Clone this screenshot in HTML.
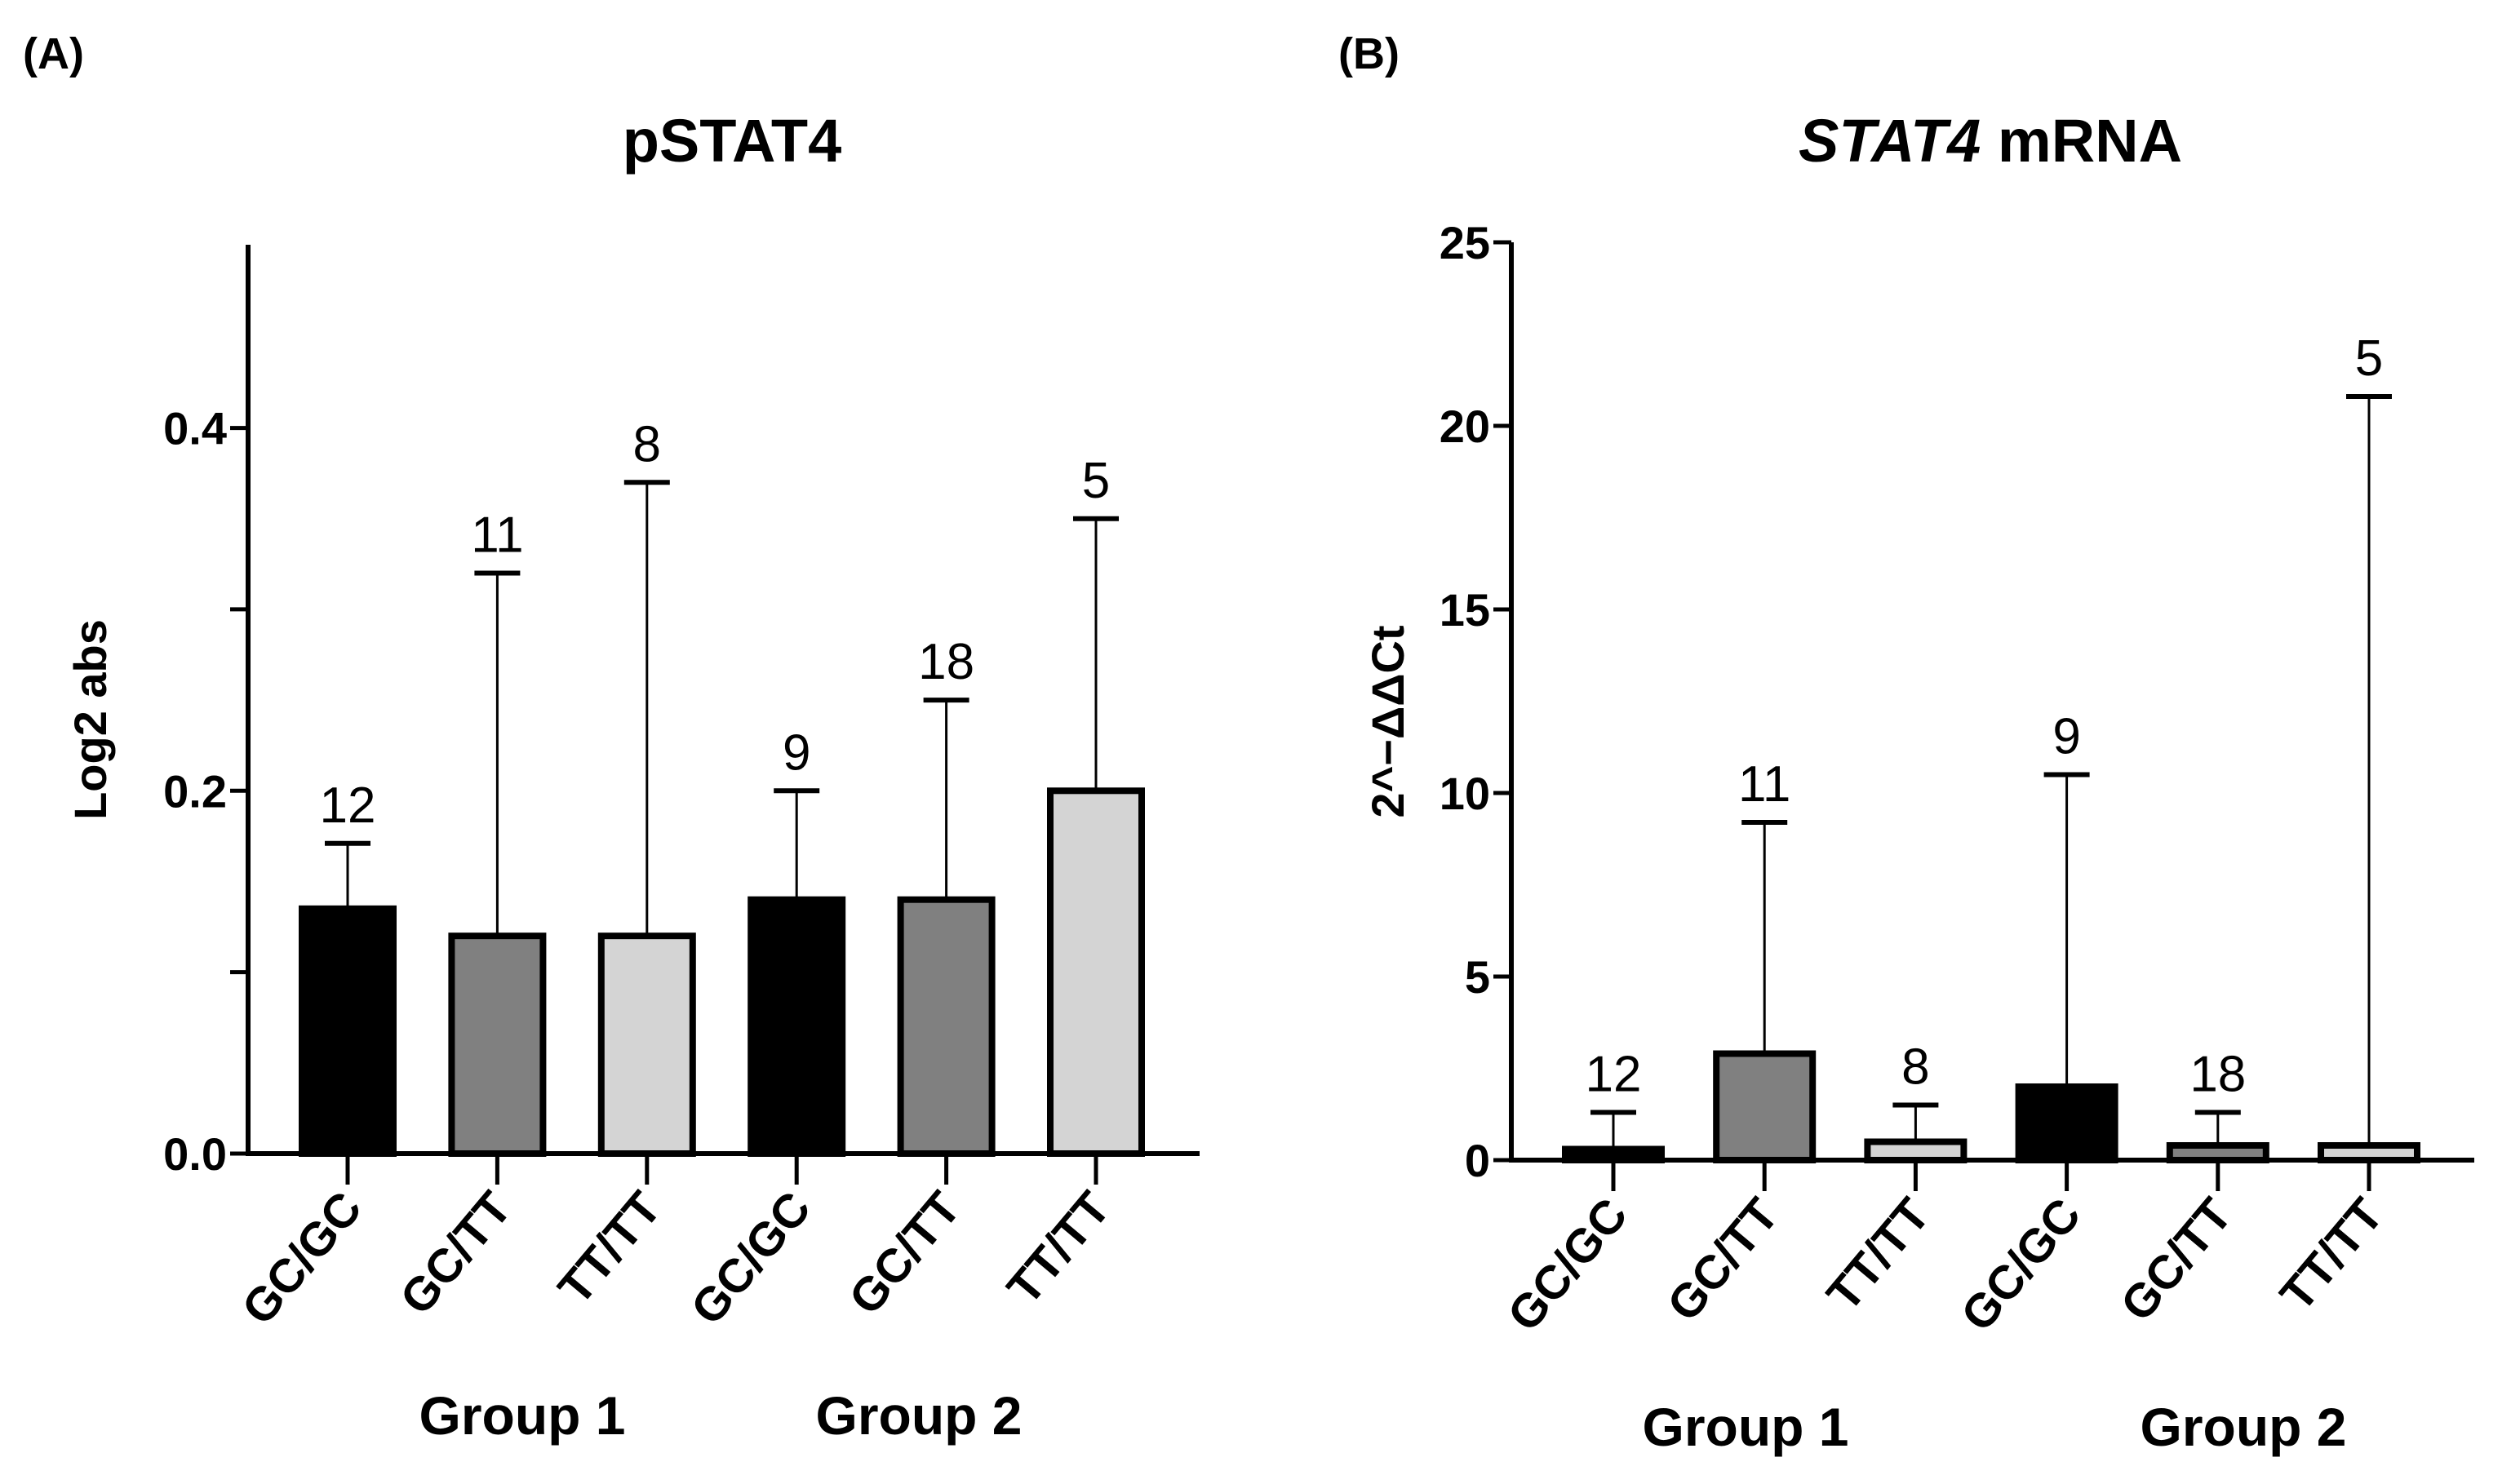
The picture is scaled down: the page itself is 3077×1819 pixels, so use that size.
<!DOCTYPE html>
<html><head><meta charset="utf-8"><style>
html,body{margin:0;padding:0;background:#fff;}
svg{display:block;font-family:"Liberation Sans",Arial,sans-serif;}
</style></head><body>
<svg id="chart" width="3077" height="1819" viewBox="0 0 3077 1819">
<text x="28" y="84" font-size="54" font-weight="bold">(A)</text>
<text x="1640" y="84" font-size="54" font-weight="bold">(B)</text>
<text x="897" y="198" font-size="74" font-weight="bold" text-anchor="middle">pSTAT4</text>
<text x="2439" y="198" font-size="74" font-weight="bold" text-anchor="middle"><tspan font-style="italic">STAT4</tspan> mRNA</text>
<g id="pa"></g>
<g id="pb"></g>
</svg>
<script>
const categories = ["GC/GC","GC/TT","TT/TT","GC/GC","GC/TT","TT/TT"];
const groupLabels = ["Group 1","Group 2"];
const pstatMeans = [0.135,0.12,0.12,0.14,0.14,0.2];
const pstatErr = [0.171,0.32,0.37,0.2,0.25,0.35];
const pstatN = ["12","11","8","9","18","5"];
const pstatTicks = [0,0.1,0.2,0.3,0.4];
const pstatTickLabels = ["0.0","","0.2","","0.4"];
const mrnaMeans = [0.3,2.9,0.5,2.0,0.4,0.4];
const mrnaErr = [1.3,9.2,1.5,10.5,1.3,20.8];
const mrnaN = ["12","11","8","9","18","5"];
const mrnaTicks = [0,5,10,15,20,25];
const mrnaTickLabels = ["0","5","10","15","20","25"];
const fills = ["#000","#808080","#d4d4d4","#000","#808080","#d4d4d4"];
const NS="http://www.w3.org/2000/svg";
function mk(parent,tag,attrs){const e=document.createElementNS(NS,tag);for(const k in attrs)e.setAttribute(k,attrs[k]);parent.appendChild(e);return e;}
function panel(g,cfg){
  const y=v=>cfg.y0-(v-cfg.vmin)/(cfg.vmax-cfg.vmin)*(cfg.y0-cfg.ytop);
  const x=i=>cfg.x1+cfg.step*i;
  const ax=mk(g,'line',{x1:cfg.ax,y1:cfg.ytop,x2:cfg.ax,y2:cfg.y0,stroke:'#000','stroke-width':6});
  
  
  cfg.ticks.forEach((t,i)=>{
    const tk=mk(g,'line',{x1:cfg.ax-22,y1:y(t),x2:cfg.ax,y2:y(t),stroke:'#000','stroke-width':5});
    
    
    if(cfg.tickLabels[i]){
      const tl=mk(g,'text',{x:cfg.ax-26,y:y(t)+20,'font-size':56,'font-weight':'bold','text-anchor':'end'});
      tl.textContent=cfg.tickLabels[i];
      
      
    }
  });
  const yl=mk(g,'text',{x:0,y:0,'font-size':56,'font-weight':'bold','text-anchor':'middle',transform:`translate(${cfg.ylx},${(cfg.ytop+cfg.y0)/2+25}) rotate(-90)`});
  yl.textContent=cfg.ylabel;
  
  
  cfg.means.forEach((m,i)=>{
    const cx=x(i);
    const el=mk(g,'line',{x1:cx,y1:y(m),x2:cx,y2:y(cfg.err[i]),stroke:'#000','stroke-width':3});
    
    
    const cap=mk(g,'line',{x1:cx-28,y1:y(cfg.err[i]),x2:cx+28,y2:y(cfg.err[i]),stroke:'#000','stroke-width':6});
    
    
    const r=mk(g,'rect',{x:cx-cfg.bw/2,y:y(m),width:cfg.bw,height:Math.max(0,cfg.y0-y(m)),fill:fills[i],stroke:'#000','stroke-width':8});
    
    
    const n=mk(g,'text',{x:cx,y:y(cfg.err[i])-26,'font-size':62,'text-anchor':'middle'});
    n.textContent=cfg.n[i];
    
    
    const tk=mk(g,'line',{x1:cx,y1:cfg.y0,x2:cx,y2:cfg.y0+38,stroke:'#000','stroke-width':5});
    
    
    const xl=mk(g,'text',{x:0,y:0,'font-size':58,'font-weight':'bold','text-anchor':'end',transform:`translate(${cx+20},${cfg.y0+68}) rotate(-50)`});
    xl.textContent=categories[i];
    
    
  });
  const xa=mk(g,'line',{x1:cfg.ax-3,y1:cfg.y0,x2:cfg.xend,y2:cfg.y0,stroke:'#000','stroke-width':6});
  
  
  groupLabels.forEach((gl,i)=>{
    const t=mk(g,'text',{x:cfg.gx[i],y:cfg.gy,'font-size':66,'font-weight':'bold','text-anchor':'middle'});
    t.textContent=gl;
    
    
  });
}
panel(document.getElementById('pa'),{ax:304,ytop:300,y0:1414,vmin:0,vmax:0.501,x1:426,step:183.4,bw:112,xend:1470,
  means:pstatMeans,err:pstatErr,n:pstatN,ticks:pstatTicks,tickLabels:pstatTickLabels,ylabel:"Log2 abs",ylx:130,gx:[640,1126],gy:1758});
panel(document.getElementById('pb'),{ax:1852,ytop:297,y0:1422,vmin:0,vmax:25,x1:1977,step:185.2,bw:118,xend:3032,
  means:mrnaMeans,err:mrnaErr,n:mrnaN,ticks:mrnaTicks,tickLabels:mrnaTickLabels,ylabel:"2^−ΔΔCt",ylx:1720,gx:[2139,2749],gy:1772});
</script>
</body></html>
